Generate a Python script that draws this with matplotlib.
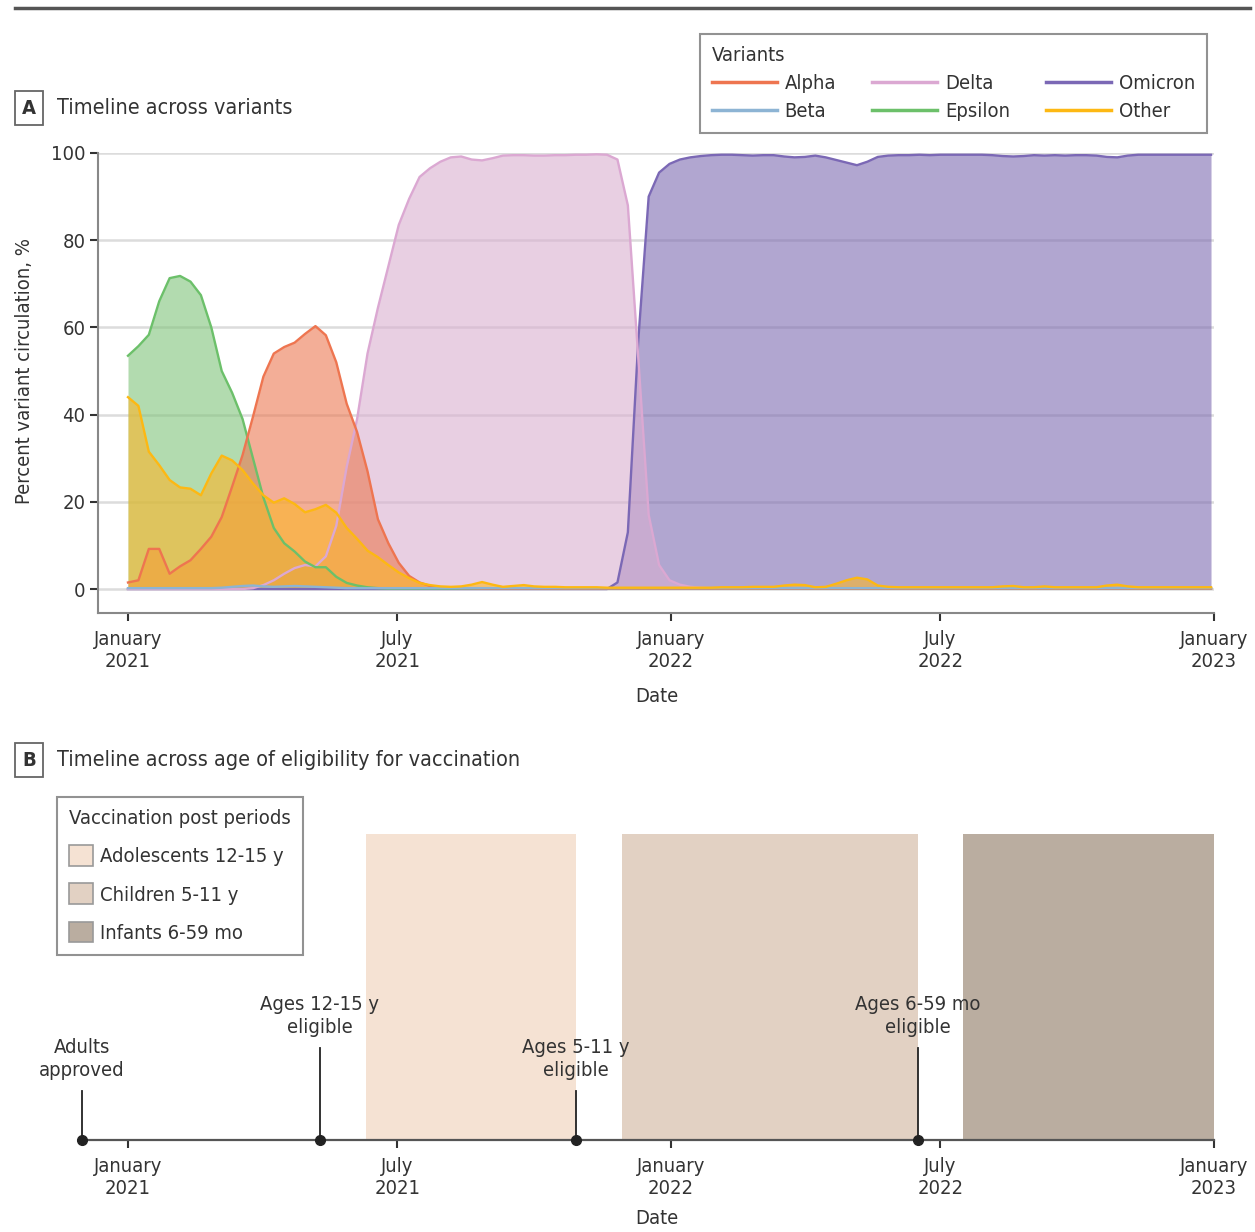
import numpy as np
import pandas as pd
import matplotlib
matplotlib.use("Agg")
import matplotlib.pyplot as plt
import matplotlib.dates as mdates
from matplotlib.lines import Line2D
from matplotlib.patches import Patch

plt.rcParams["font.family"] = ["DejaVu Sans"]
plt.rcParams["font.stretch"] = "condensed"
plt.rcParams["text.color"] = "#333333"

# --- data ---------------------------------------------------------------------
weeks = pd.date_range("2021-01-01", periods=105, freq="7D")

alpha = [1.5, 2.0, 9.2, 9.2, 3.5, 5.2, 6.6, 9.2, 12.0, 16.5, 23.5, 30.7, 39.5, 48.7, 54.0,
         55.5, 56.5, 58.5, 60.3, 58.2, 52.0, 42.5, 36.0, 27.0, 16.0, 10.5, 6.0, 3.0, 1.5, 0.7,
         0.4, 0.3, 0.2, 0.2, 0.1, 0.1, 0.1, 0.1, 0.1, 0.1, 0.1, 0.1, 0.1, 0.1, 0.1,
         0.1, 0.1, 0.1, 0.1, 0.1, 0.1, 0.1, 0.1, 0.1, 0.1, 0.1, 0.1, 0.1, 0.1, 0.1,
         0.1, 0.1, 0.1, 0.1, 0.1, 0.1, 0.1, 0.1, 0.1, 0.1, 0.1, 0.1, 0.1, 0.1, 0.1,
         0.1, 0.1, 0.1, 0.1, 0.1, 0.1, 0.1, 0.1, 0.1, 0.1, 0.1, 0.1, 0.1, 0.1, 0.1,
         0.1, 0.1, 0.1, 0.1, 0.1, 0.1, 0.1, 0.1, 0.1, 0.1, 0.1, 0.1, 0.1, 0.1, 0.1]

beta = [0.2, 0.2, 0.2, 0.2, 0.2, 0.2, 0.2, 0.2, 0.2, 0.3, 0.5, 0.7, 0.8, 0.6, 0.5,
        0.6, 0.7, 0.6, 0.5, 0.4, 0.3, 0.2, 0.2, 0.2, 0.2, 0.2, 0.2, 0.2, 0.2, 0.2,
        0.2, 0.2, 0.2, 0.2, 0.2, 0.2, 0.2, 0.2, 0.2, 0.2, 0.2, 0.2, 0.2, 0.2, 0.2,
        0.2, 0.2, 0.2, 0.2, 0.2, 0.2, 0.2, 0.2, 0.2, 0.2, 0.2, 0.2, 0.2, 0.2, 0.2,
        0.2, 0.2, 0.2, 0.2, 0.2, 0.2, 0.2, 0.2, 0.2, 0.2, 0.2, 0.2, 0.2, 0.2, 0.2,
        0.2, 0.2, 0.2, 0.2, 0.2, 0.2, 0.2, 0.2, 0.2, 0.2, 0.2, 0.2, 0.2, 0.2, 0.2,
        0.2, 0.2, 0.2, 0.2, 0.2, 0.2, 0.2, 0.2, 0.2, 0.2, 0.2, 0.2, 0.2, 0.2, 0.2]

delta = [0.0, 0.0, 0.0, 0.0, 0.0, 0.0, 0.0, 0.0, 0.0, 0.0, 0.0, 0.0, 0.2, 0.9, 2.0,
         3.5, 4.8, 5.5, 5.2, 7.5, 14.5, 28.0, 39.0, 54.0, 64.5, 74.0, 83.5, 89.5, 94.5, 96.5,
         98.0, 99.0, 99.2, 98.5, 98.3, 98.8, 99.4, 99.5, 99.5, 99.4, 99.4, 99.5, 99.5, 99.6, 99.6,
         99.7, 99.6, 98.5, 88.0, 53.0, 17.0, 5.5, 2.0, 1.0, 0.5, 0.3, 0.2, 0.1, 0.1, 0.1,
         0.1, 0.1, 0.1, 0.1, 0.1, 0.1, 0.1, 0.1, 0.1, 0.1, 0.1, 0.1, 0.1, 0.1, 0.1,
         0.1, 0.1, 0.1, 0.1, 0.1, 0.1, 0.1, 0.1, 0.1, 0.1, 0.1, 0.1, 0.1, 0.1, 0.1,
         0.1, 0.1, 0.1, 0.1, 0.1, 0.1, 0.1, 0.1, 0.1, 0.1, 0.1, 0.1, 0.1, 0.1, 0.1]

epsilon = [53.5, 55.7, 58.3, 66.0, 71.3, 71.8, 70.5, 67.4, 60.0, 50.0, 45.0, 39.0, 30.0, 21.0, 14.0,
           10.5, 8.6, 6.3, 5.0, 5.0, 2.8, 1.4, 0.8, 0.4, 0.2, 0.1, 0.1, 0.1, 0.1, 0.1,
           0.1, 0.1, 0.1, 0.1, 0.1, 0.1, 0.1, 0.1, 0.1, 0.1, 0.1, 0.1, 0.1, 0.1, 0.1,
           0.1, 0.1, 0.1, 0.1, 0.1, 0.1, 0.1, 0.1, 0.1, 0.1, 0.1, 0.1, 0.1, 0.1, 0.1,
           0.1, 0.1, 0.1, 0.1, 0.1, 0.1, 0.1, 0.1, 0.1, 0.1, 0.1, 0.1, 0.1, 0.1, 0.1,
           0.1, 0.1, 0.1, 0.1, 0.1, 0.1, 0.1, 0.1, 0.1, 0.1, 0.1, 0.1, 0.1, 0.1, 0.1,
           0.1, 0.1, 0.1, 0.1, 0.1, 0.1, 0.1, 0.1, 0.1, 0.1, 0.1, 0.1, 0.1, 0.1, 0.1]

omicron = [0.0, 0.0, 0.0, 0.0, 0.0, 0.0, 0.0, 0.0, 0.0, 0.0, 0.0, 0.0, 0.0, 0.0, 0.0,
           0.0, 0.0, 0.0, 0.0, 0.0, 0.0, 0.0, 0.0, 0.0, 0.0, 0.0, 0.0, 0.0, 0.0, 0.0,
           0.0, 0.0, 0.0, 0.0, 0.0, 0.0, 0.0, 0.0, 0.0, 0.0, 0.0, 0.0, 0.0, 0.0, 0.0,
           0.0, 0.0, 1.5, 13.0, 57.0, 90.0, 95.5, 97.5, 98.5, 99.0, 99.3, 99.5, 99.6, 99.6, 99.5,
           99.4, 99.5, 99.5, 99.2, 99.0, 99.1, 99.4, 99.0, 98.4, 97.8, 97.2, 98.0, 99.1, 99.4, 99.5,
           99.5, 99.6, 99.5, 99.6, 99.6, 99.6, 99.6, 99.6, 99.5, 99.3, 99.2, 99.3, 99.5, 99.4, 99.5,
           99.4, 99.5, 99.5, 99.4, 99.1, 99.0, 99.4, 99.6, 99.6, 99.6, 99.6, 99.6, 99.6, 99.6, 99.6]

other = [44.0, 42.0, 31.5, 28.4, 25.0, 23.3, 23.0, 21.5, 26.5, 30.6, 29.5, 27.3, 24.2, 21.5, 19.8,
         20.8, 19.5, 17.6, 18.3, 19.3, 17.5, 14.0, 11.5, 8.8, 7.3, 5.5, 3.8, 2.5, 1.4, 0.9,
         0.6, 0.5, 0.6, 1.0, 1.6, 1.0, 0.5, 0.7, 0.9, 0.6, 0.5, 0.5, 0.4, 0.4, 0.4,
         0.4, 0.3, 0.3, 0.3, 0.3, 0.3, 0.3, 0.3, 0.3, 0.3, 0.3, 0.3, 0.4, 0.4, 0.4,
         0.5, 0.5, 0.5, 0.8, 1.0, 0.9, 0.4, 0.5, 1.2, 2.0, 2.6, 2.2, 0.8, 0.5, 0.4,
         0.4, 0.4, 0.4, 0.4, 0.4, 0.4, 0.4, 0.4, 0.4, 0.6, 0.7, 0.4, 0.4, 0.6, 0.4,
         0.4, 0.4, 0.4, 0.4, 0.8, 1.0, 0.6, 0.4, 0.4, 0.4, 0.4, 0.4, 0.4, 0.4, 0.4]

# legend order and drawing order differ: the chart paints Other on top
legend_names = ["Alpha", "Beta", "Delta", "Epsilon", "Omicron", "Other"]
draw_order = ["Omicron", "Delta", "Epsilon", "Alpha", "Beta", "Other"]
series = {"Alpha": alpha, "Beta": beta, "Delta": delta,
          "Epsilon": epsilon, "Omicron": omicron, "Other": other}
line_col = {"Alpha": "#ee7550", "Beta": "#8db4d4", "Delta": "#dba8d2",
            "Epsilon": "#6cc06a", "Omicron": "#7b68b5", "Other": "#fdb813"}
fill_col = {"Alpha": "#eb7952", "Beta": "#8db4d4", "Delta": "#d9afd0",
            "Epsilon": "#80c37a", "Omicron": "#7d6bb1", "Other": "#fcb628"}

tick_dates = pd.to_datetime(["2021-01-01", "2021-07-01", "2022-01-01", "2022-07-01", "2023-01-01"])
tick_labels = ["January\n2021", "July\n2021", "January\n2022", "July\n2022", "January\n2023"]

period_names = ["Adolescents 12-15 y", "Children 5-11 y", "Infants 6-59 mo"]
period_start = pd.to_datetime(["2021-06-10", "2021-11-29", "2022-07-16"])
period_end = pd.to_datetime(["2021-10-29", "2022-06-16", "2023-01-01"])
period_col = ["#f5e2d3", "#e2d1c3", "#baada0"]

event_labels = ["Adults\napproved", "Ages 12-15 y\neligible", "Ages 5-11 y\neligible",
                "Ages 6-59 mo\neligible"]
event_dates = pd.to_datetime(["2020-12-01", "2021-05-10", "2021-10-29", "2022-06-16"])
event_height = [0.16, 0.30, 0.16, 0.30]

# --- figure -------------------------------------------------------------------
W, H = 1255, 1232
FS = 14.5
fig = plt.figure(figsize=(W / 100, H / 100), dpi=100)


def fx(px):
    return px / W


def fy(py):
    return 1 - py / H


fig.add_artist(Line2D([fx(15), fx(1250)], [fy(8), fy(8)], color="#555555", lw=2.5))

x0 = mdates.date2num(pd.Timestamp("2021-01-01"))
x1 = mdates.date2num(pd.Timestamp("2023-01-01"))
ppd = (1214 - 128) / (x1 - x0)          # pixels per day

# --- panel A ------------------------------------------------------------------
axA = fig.add_axes([fx(98), fy(613), fx(1214 - 98), (613 - 153) / H])
for v in range(0, 101, 20):
    axA.axhline(v, color="#dcdcdc", lw=1.8, zorder=0)
for name in draw_order:
    y = np.array(series[name])
    axA.fill_between(weeks, 0, y, color=fill_col[name], alpha=0.6, lw=0, zorder=2)
    axA.plot(weeks, y, color=line_col[name], lw=1.7, zorder=3)

axA.set_xlim(x0 - 30 / ppd, x1)
axA.set_ylim(-5.5, 100)
axA.set_yticks(range(0, 101, 20))
axA.set_xticks(tick_dates)
axA.set_xticklabels(tick_labels)
for s in ["top", "right"]:
    axA.spines[s].set_visible(False)
for s in ["left", "bottom"]:
    axA.spines[s].set_color("#888888")
    axA.spines[s].set_linewidth(1.5)
axA.tick_params(axis="both", labelsize=FS, colors="#333333", length=6, width=1.5)
axA.tick_params(axis="x", pad=6)
axA.tick_params(axis="y", pad=3)
for t in axA.get_xticklines() + axA.get_yticklines():
    t.set_color("#555555")

fig.text(fx(25), fy(371), "Percent variant circulation, %", rotation=90,
         ha="center", va="center", fontsize=FS)
fig.text(fx(657), fy(697), "Date", ha="center", va="center", fontsize=FS)

handles = [Line2D([], [], color=line_col[n], lw=2.5) for n in legend_names]
legA = fig.legend(handles, legend_names, ncol=3, title="Variants", alignment="left",
                  loc="upper right", bbox_to_anchor=(fx(1207), fy(34)), fontsize=FS,
                  title_fontsize=FS, frameon=True, fancybox=False, edgecolor="#777777",
                  handlelength=3.2, handletextpad=0.4, columnspacing=1.8,
                  labelspacing=0.45, borderpad=0.6, borderaxespad=0)
legA.get_frame().set_linewidth(1.5)

# panel labels
for lab, ypx, title in [("A", 108, "Timeline across variants"),
                        ("B", 760, "Timeline across age of eligibility for vaccination")]:
    fig.text(fx(29), fy(ypx), lab, ha="center", va="center", fontsize=FS, fontweight="bold",
             bbox=dict(boxstyle="square,pad=0.35", fc="white", ec="#666666", lw=1.3))
    fig.text(fx(57), fy(ypx), title, ha="left", va="center", fontsize=FS + 1)

# --- panel B ------------------------------------------------------------------
axB = fig.add_axes([fx(40), fy(1140), fx(1214 - 40), (1140 - 834) / H])
axB.set_xlim(x0 - (128 - 40) / ppd, x1)
axB.set_ylim(0, 1)
for s0, s1, c in zip(period_start, period_end, period_col):
    axB.axvspan(s0, s1, ymin=0, ymax=1, color=c, lw=0, zorder=1)
for d, h, lab in zip(event_dates, event_height, event_labels):
    axB.plot([d, d], [0, h], color="#222222", lw=1.3, zorder=3, clip_on=False)
    axB.plot([d], [0], "o", color="#222222", ms=7, zorder=4, clip_on=False)
    axB.text(d, h + 0.035, lab, ha="center", va="bottom", fontsize=FS, linespacing=1.3,
             zorder=5)

axB.set_yticks([])
axB.set_xticks(tick_dates)
axB.set_xticklabels(tick_labels)
for s in ["top", "right", "left"]:
    axB.spines[s].set_visible(False)
axB.spines["bottom"].set_color("#555555")
axB.spines["bottom"].set_linewidth(1.6)
axB.spines["bottom"].set_bounds(mdates.date2num(event_dates[0]), x1)
axB.spines["bottom"].set_zorder(2)
axB.tick_params(axis="x", labelsize=FS, colors="#333333", length=6, width=1.5, pad=6)
for t in axB.get_xticklines():
    t.set_color("#555555")
axB.patch.set_visible(False)

fig.text(fx(657), fy(1218), "Date", ha="center", va="center", fontsize=FS)

phandles = [Patch(facecolor=c, edgecolor="#999999", lw=1.2) for c in period_col]
legB = fig.legend(phandles, period_names, title="Vaccination post periods", alignment="left",
                  loc="upper left", bbox_to_anchor=(fx(57), fy(797)), fontsize=FS,
                  title_fontsize=FS, frameon=True, fancybox=False, edgecolor="#777777",
                  handlelength=1.2, handleheight=1.2, handletextpad=0.35,
                  labelspacing=0.85, borderpad=0.6, borderaxespad=0)
legB.get_frame().set_linewidth(1.5)

fig.savefig("out.png", dpi=100)
